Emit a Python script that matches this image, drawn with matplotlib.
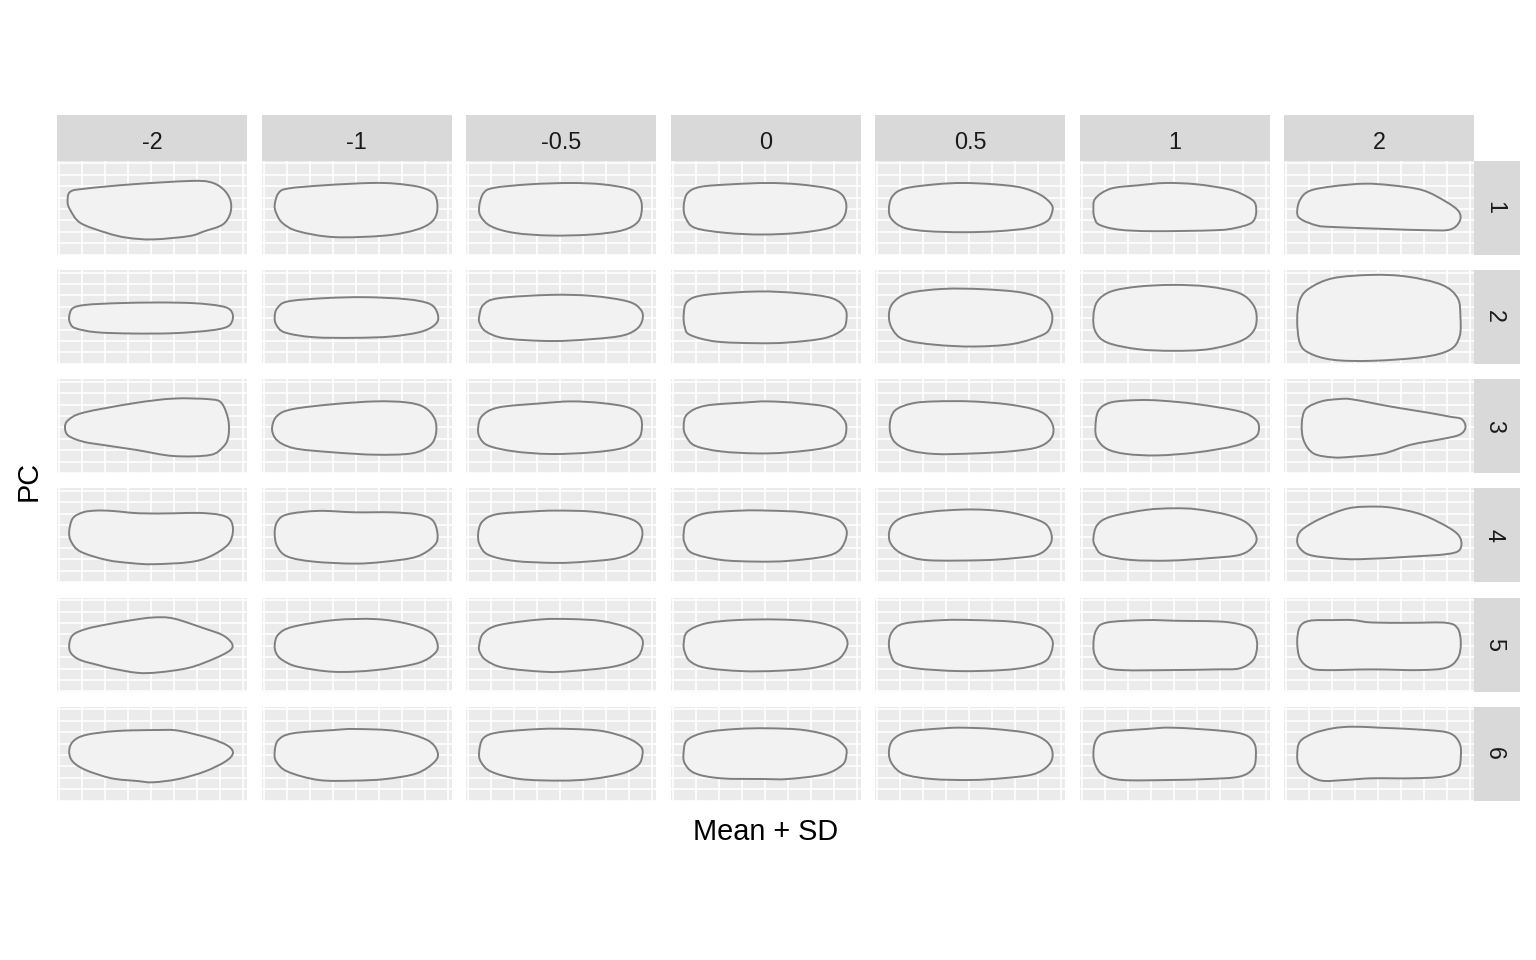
import matplotlib
matplotlib.use("Agg")
import matplotlib.pyplot as plt
from matplotlib.path import Path
from matplotlib.patches import PathPatch
import numpy as np

plt.rcParams['font.family'] = ['Liberation Sans', 'DejaVu Sans']

# ---------------- data ----------------
sd_levels = ["-2", "-1", "-0.5", "0", "0.5", "1", "2"]
pc_labels = ["1", "2", "3", "4", "5", "6"]
x_title = "Mean + SD"
y_title = "PC"

# Outline coordinates of the reconstructed shapes (panel units, y downward),
# one closed outline per SD level, for each principal component.
PC1 = [
    [(10.3,41.0),(12.9,31.1),(28.4,27.9),(74.9,23.6),(131.7,20.3),(152.4,21.3),(165.3,27.9),(173.0,39.3),(173.0,52.5),(165.3,63.9),(147.2,70.5),(131.7,75.4),(95.6,78.7),(69.7,77.0),(49.1,72.1),(23.2,62.3),(12.9,49.2)],
    [(12.9,44.3),(16.5,32.8),(25.8,27.9),(62.0,24.6),(108.5,22.3),(134.3,23.0),(160.1,26.9),(173.0,34.4),(175.5,49.2),(170.4,60.7),(154.9,68.9),(123.9,74.8),(72.3,76.4),(36.2,70.5),(20.7,62.3),(14.5,52.5)],
    [(12.9,45.9),(17.0,32.8),(27.4,27.2),(63.5,23.6),(104.9,22.3),(135.8,23.6),(161.7,27.9),(172.0,34.4),(175.6,45.9),(172.0,60.7),(156.5,69.5),(125.5,73.8),(84.2,74.8),(48.0,72.2),(24.8,65.6),(14.5,55.8)],
    [(12.9,45.9),(16.5,32.8),(29.4,26.2),(60.4,23.6),(96.6,22.3),(127.6,23.6),(158.6,27.9),(171.5,34.4),(175.6,45.9),(171.5,59.0),(158.6,67.2),(127.6,72.2),(91.4,73.8),(55.3,72.2),(24.3,67.2),(15.0,57.4)],
    [(13.6,49.2),(16.8,36.1),(29.2,27.9),(60.4,23.6),(87.7,22.3),(118.8,23.6),(146.1,26.9),(165.6,34.4),(176.5,44.3),(176.5,52.5),(171.4,60.7),(153.9,67.2),(122.7,70.5),(87.7,71.5),(52.6,70.5),(29.2,67.2),(16.8,59.0)],
    [(13.6,49.2),(15.6,37.7),(31.2,27.9),(58.4,24.6),(85.7,22.3),(116.9,23.6),(150.0,28.9),(167.5,36.1),(175.3,42.6),(176.1,54.1),(171.4,62.3),(155.8,67.2),(136.4,69.5),(74.0,70.5),(39.0,68.9),(19.5,64.0),(14.8,57.4)],
    [(12.9,52.5),(15.6,39.4),(25.3,30.2),(48.7,25.6),(79.9,23.0),(107.1,24.6),(138.3,29.5),(161.7,41.0),(174.5,50.8),(175.3,60.7),(165.6,68.9),(142.2,69.5),(99.3,68.2),(48.7,66.3),(33.1,64.9),(17.5,59.0)],
]
PC2 = [
    [(11.9,46.6),(15.5,38.3),(28.4,35.0),(59.4,33.3),(100.7,32.6),(136.9,33.3),(162.7,36.0),(173.0,40.0),(175.6,48.3),(170.4,56.6),(152.4,60.6),(116.2,63.3),(74.9,63.6),(38.7,62.3),(18.1,58.3),(12.9,53.3)],
    [(12.9,46.6),(15.5,38.3),(25.8,31.6),(62.0,28.3),(103.3,27.3),(144.6,29.3),(167.9,34.0),(175.6,43.3),(174.6,53.3),(160.1,61.6),(129.1,66.6),(93.0,67.9),(51.7,67.3),(23.2,62.6),(14.5,54.9)],
    [(12.9,46.6),(17.0,35.0),(32.5,28.3),(84.2,25.0),(125.5,26.0),(161.7,31.6),(174.6,40.0),(176.1,50.0),(169.4,59.9),(151.3,66.6),(104.9,70.6),(73.9,70.9),(37.7,68.3),(19.6,61.6),(13.4,53.3)],
    [(12.9,45.0),(16.5,31.6),(34.6,25.0),(86.3,21.6),(127.6,23.3),(161.1,28.3),(174.1,38.3),(175.6,50.0),(171.5,59.9),(153.4,68.3),(117.2,72.6),(86.3,73.3),(44.9,71.6),(19.1,64.9),(13.9,56.6)],
    [(13.6,46.6),(17.5,33.3),(33.1,23.3),(68.2,19.0),(107.1,19.3),(146.1,22.6),(167.5,30.0),(176.5,43.3),(175.3,56.6),(167.5,64.9),(138.3,73.9),(99.3,76.6),(60.4,74.9),(29.2,69.9),(17.5,59.9)],
    [(13.6,46.6),(17.5,31.6),(31.2,21.6),(58.4,16.7),(93.5,15.0),(128.6,16.7),(159.7,23.3),(173.4,35.0),(176.9,48.3),(173.4,61.6),(159.7,71.6),(128.6,79.3),(93.5,80.9),(58.4,79.3),(27.3,72.6),(15.6,61.6)],
    [(12.9,50.0),(15.6,30.0),(25.3,18.3),(48.7,8.3),(87.7,5.0),(122.7,6.7),(157.8,15.0),(173.4,28.3),(176.1,46.6),(175.3,66.6),(165.6,79.9),(138.3,87.2),(87.7,90.9),(48.7,89.9),(25.3,83.3),(15.6,73.3)],
]
PC3 = [
    [(7.7,48.3),(11.0,41.0),(26.0,33.6),(76.0,24.2),(116.0,19.5),(152.7,20.2),(164.4,24.2),(171.0,40.9),(171.0,57.6),(166.0,67.6),(152.7,75.9),(116.0,76.9),(79.4,70.9),(50.0,66.5),(26.0,62.6),(11.0,56.5)],
    [(10.3,48.3),(15.5,36.6),(31.0,30.0),(72.3,25.0),(113.6,22.3),(144.6,23.3),(162.7,28.3),(173.0,40.0),(174.1,54.9),(167.9,66.6),(149.8,74.3),(113.6,75.6),(72.3,73.3),(36.2,69.9),(20.7,64.9),(12.9,58.3)],
    [(11.9,48.3),(16.0,36.6),(32.5,28.3),(73.9,24.3),(104.9,22.3),(135.8,24.0),(161.7,28.3),(173.5,36.6),(175.6,48.3),(172.0,59.9),(156.5,68.9),(125.5,73.3),(84.2,74.9),(48.0,72.3),(22.2,66.6),(13.4,58.3)],
    [(12.9,46.6),(16.5,35.0),(34.6,26.6),(75.9,23.3),(96.6,22.3),(127.6,24.0),(158.6,28.3),(171.5,38.3),(175.6,48.3),(171.5,61.6),(153.4,68.9),(117.2,73.3),(86.3,74.3),(50.1,72.3),(24.3,66.6),(15.0,56.6)],
    [(14.4,46.6),(19.5,31.6),(37.0,24.3),(60.4,22.3),(95.5,22.3),(130.5,25.0),(157.8,30.0),(171.4,36.6),(178.0,48.3),(175.3,59.9),(161.7,68.3),(134.4,72.3),(99.3,74.3),(60.4,74.9),(33.1,70.9),(18.3,61.6)],
    [(15.6,48.3),(18.7,31.6),(31.2,23.3),(58.4,21.0),(81.8,21.6),(116.9,25.0),(159.7,32.3),(175.3,40.0),(179.2,48.3),(175.3,58.3),(155.8,66.6),(116.9,73.3),(77.9,76.3),(46.8,74.9),(27.3,69.9),(17.5,59.9)],
    [(17.5,45.0),(21.4,30.0),(37.0,22.3),(54.5,20.0),(68.2,20.3),(107.1,27.6),(142.2,33.3),(165.6,37.6),(177.3,40.0),(181.2,48.3),(175.3,55.6),(157.8,59.9),(126.6,65.6),(99.3,74.3),(68.2,77.6),(48.7,78.3),(29.2,74.3),(19.5,61.6)],
]
PC4 = [
    [(11.9,43.3),(15.5,30.0),(25.8,24.0),(38.7,22.3),(54.2,22.6),(82.6,25.0),(116.2,25.0),(142.0,24.6),(162.7,26.6),(173.0,31.6),(175.6,43.3),(170.4,56.6),(152.4,68.3),(131.7,73.9),(95.6,75.9),(74.9,74.9),(49.1,71.6),(23.2,63.3),(13.9,53.3)],
    [(12.9,45.0),(15.5,33.3),(25.8,26.0),(56.8,22.6),(93.0,24.0),(129.1,24.0),(155.0,26.0),(170.4,31.6),(175.6,45.0),(173.0,56.6),(155.0,68.3),(124.0,73.3),(93.0,75.3),(51.7,73.3),(25.8,68.3),(15.5,58.3)],
    [(11.9,45.0),(16.0,33.3),(30.0,26.0),(63.5,23.3),(89.4,22.3),(125.5,23.3),(156.5,28.3),(172.0,35.0),(176.1,46.6),(169.4,61.6),(151.3,69.9),(120.3,73.3),(89.4,74.6),(48.0,72.6),(22.2,66.6),(13.4,56.6)],
    [(12.9,45.0),(16.5,33.3),(34.6,25.0),(70.8,22.3),(96.6,22.3),(132.7,24.0),(163.7,30.0),(174.1,38.3),(175.6,48.3),(168.9,61.6),(153.4,68.3),(117.2,72.6),(86.3,73.3),(50.1,71.6),(21.7,64.9),(13.9,54.9)],
    [(13.6,48.3),(16.8,36.6),(29.2,28.3),(56.5,23.3),(87.7,21.3),(111.0,21.6),(134.4,24.0),(157.8,30.0),(171.4,36.6),(176.5,48.3),(173.4,58.3),(161.7,66.6),(138.3,69.9),(107.1,71.9),(52.6,71.9),(29.2,66.6),(17.5,58.3)],
    [(13.6,50.0),(17.5,36.6),(31.2,28.3),(66.2,21.6),(93.5,20.0),(116.9,21.0),(148.0,26.6),(167.5,35.0),(176.5,48.3),(173.4,58.3),(159.7,66.6),(128.6,69.9),(89.6,72.3),(50.6,71.6),(23.4,66.6),(15.6,58.3)],
    [(12.9,51.6),(17.5,41.6),(37.0,30.0),(64.3,20.0),(91.6,18.3),(111.0,20.0),(138.3,26.6),(165.6,40.0),(176.1,50.0),(175.3,61.6),(161.7,65.9),(126.6,68.3),(76.0,70.9),(48.7,69.9),(25.3,66.6),(15.6,59.9)],
]
PC5 = [
    [(11.9,47.6),(15.5,37.6),(28.4,31.6),(49.1,27.0),(74.9,22.6),(95.6,20.0),(116.2,21.0),(147.2,31.0),(165.3,37.6),(174.6,46.0),(173.0,52.6),(157.5,60.9),(131.7,70.3),(100.7,74.9),(80.1,75.3),(54.2,70.9),(43.9,68.3),(23.2,62.6),(13.9,55.9)],
    [(12.9,47.6),(16.5,37.0),(31.0,29.3),(72.3,22.6),(113.6,21.6),(144.6,26.0),(167.9,34.3),(175.6,46.0),(173.0,55.9),(155.0,65.9),(113.6,72.6),(72.3,74.3),(36.2,69.3),(20.7,62.6),(14.5,55.9)],
    [(12.9,47.6),(17.0,36.0),(32.5,27.6),(73.9,22.0),(104.9,21.6),(135.8,23.6),(161.7,30.3),(174.6,39.3),(176.1,49.3),(169.4,60.9),(146.2,69.3),(104.9,73.6),(79.0,74.3),(37.7,70.3),(19.6,62.6),(13.4,54.3)],
    [(12.9,46.0),(16.5,34.3),(34.6,26.0),(65.6,22.6),(106.9,22.0),(143.1,24.3),(166.3,31.0),(175.6,41.0),(175.6,51.0),(166.3,62.6),(143.1,70.3),(106.9,73.3),(70.8,73.6),(34.6,70.3),(19.1,63.6),(13.9,54.3)],
    [(13.6,46.0),(16.8,34.3),(29.2,26.0),(68.2,22.6),(99.3,22.6),(138.3,24.3),(163.6,29.3),(175.3,39.3),(177.3,49.3),(171.4,62.6),(153.9,69.3),(126.6,72.6),(83.8,73.6),(40.9,70.9),(21.4,65.9),(15.6,57.6)],
    [(13.6,47.6),(16.4,32.6),(27.3,25.0),(66.2,22.6),(97.4,23.3),(144.2,24.3),(167.5,29.3),(175.3,37.6),(177.3,49.3),(173.4,62.6),(159.7,70.9),(136.4,71.9),(89.6,72.6),(42.9,72.6),(23.4,69.3),(15.6,59.3)],
    [(12.9,44.3),(15.6,29.3),(25.3,23.3),(48.7,22.6),(68.2,22.6),(87.7,25.0),(126.6,25.3),(161.7,25.3),(173.4,31.0),(176.5,46.0),(173.4,60.9),(161.7,70.3),(134.4,72.6),(87.7,71.9),(40.9,72.6),(25.3,70.3),(15.6,60.9)],
]
PC6 = [
    [(11.9,45.0),(15.5,35.0),(28.4,28.3),(59.4,24.3),(100.7,23.3),(121.4,24.0),(152.4,31.6),(170.4,39.0),(175.6,46.6),(167.9,54.9),(147.2,64.9),(121.4,72.3),(95.6,75.6),(80.1,74.3),(54.2,71.6),(28.4,63.3),(15.5,54.9)],
    [(12.9,45.0),(16.5,33.3),(31.0,26.6),(72.3,23.3),(93.0,22.3),(134.3,24.3),(165.3,33.3),(175.6,45.0),(173.0,54.9),(155.0,66.6),(124.0,72.3),(93.0,73.9),(56.8,73.3),(25.8,64.9),(14.5,54.9)],
    [(12.9,45.0),(17.0,31.6),(32.5,25.6),(73.9,22.3),(104.9,22.3),(135.8,24.3),(161.7,31.6),(174.6,40.0),(176.1,48.3),(172.0,58.3),(156.5,66.6),(125.5,72.3),(94.5,73.9),(53.2,72.3),(24.8,64.9),(14.5,54.9)],
    [(12.9,45.0),(16.5,33.3),(34.6,25.6),(65.6,22.3),(96.6,21.6),(132.7,23.3),(161.1,30.0),(174.1,40.0),(175.6,48.3),(171.5,58.3),(153.4,67.6),(117.2,72.3),(91.4,72.3),(50.1,71.6),(24.3,66.6),(13.9,56.6)],
    [(13.6,46.6),(17.5,33.3),(33.1,25.0),(68.2,21.6),(87.7,21.0),(118.8,22.3),(153.9,26.6),(171.4,35.0),(177.3,46.6),(173.4,58.3),(157.8,67.6),(126.6,71.6),(95.5,73.3),(56.5,72.3),(29.2,67.6),(17.5,58.3)],
    [(13.6,46.6),(16.4,33.3),(27.3,25.6),(66.2,22.3),(93.5,21.0),(144.2,24.3),(165.6,28.3),(174.5,36.6),(176.1,48.3),(173.4,61.6),(159.7,69.9),(128.6,72.3),(89.6,73.3),(42.9,73.3),(23.4,68.3),(15.6,58.3)],
    [(12.9,48.3),(15.6,35.0),(29.2,26.6),(48.7,21.6),(68.2,20.0),(95.5,21.0),(142.2,23.3),(165.6,26.6),(175.3,36.6),(176.5,50.0),(173.4,63.3),(157.8,69.9),(126.6,71.6),(87.7,71.6),(60.4,73.3),(37.0,73.9),(21.4,66.6),(14.4,58.3)],
]
outlines_by_pc = [PC1, PC2, PC3, PC4, PC5, PC6]

# ---------------- layout / style ----------------
W, H = 1536, 960
panel_w, panel_h = 190.0, 94.0
col_left0, col_step = 57.3, 204.5
row_top0, row_step = 160.7, 109.2
strip_size = 45.7
grid_x = [2.0 + 23.0 * k for k in range(9)]
grid_y = [2.6 + 11.4 * k for k in range(9)]

PANEL_BG = "#EBEBEB"
STRIP_BG = "#D9D9D9"
SHAPE_FILL = "#F2F2F2"
SHAPE_EDGE = "#7F7F7F"
STRIP_FS = 16.8
TITLE_FS = 20.8


def smooth_closed(points):
    P = np.asarray(points, float)
    n = len(P)
    verts = [P[0]]
    codes = [Path.MOVETO]
    for i in range(n):
        p0, p1, p2, p3 = P[i - 1], P[i], P[(i + 1) % n], P[(i + 2) % n]
        verts += [p1 + (p2 - p0) / 6.0, p2 - (p3 - p1) / 6.0, p2]
        codes += [Path.CURVE4] * 3
    verts.append(P[0])
    codes.append(Path.CLOSEPOLY)
    return Path(verts, codes)


def px_axes(fig, left, top, w, h):
    return fig.add_axes([left / W, 1 - (top + h) / H, w / W, h / H])


fig = plt.figure(figsize=(W / 100, H / 100), dpi=100)
fig.patch.set_facecolor("white")

for r, pc_rows in enumerate(outlines_by_pc):
    top = row_top0 + r * row_step
    for c, pts in enumerate(pc_rows):
        left = col_left0 + c * col_step
        ax = px_axes(fig, left, top, panel_w, panel_h)
        ax.set_facecolor(PANEL_BG)
        ax.set_xlim(0, panel_w)
        ax.set_ylim(panel_h, 0)
        ax.set_xticks(grid_x)
        ax.set_yticks(grid_y)
        ax.grid(True, color="white", linewidth=1.2)
        ax.set_axisbelow(True)
        ax.tick_params(length=0, labelbottom=False, labelleft=False)
        for s in ax.spines.values():
            s.set_visible(False)
        ax.add_patch(PathPatch(smooth_closed(pts), facecolor=SHAPE_FILL,
                               edgecolor=SHAPE_EDGE, linewidth=1.4, zorder=3))

# top strips
for c, lab in enumerate(sd_levels):
    left = col_left0 + c * col_step
    sax = px_axes(fig, left, row_top0 - strip_size, panel_w, strip_size)
    sax.set_facecolor(STRIP_BG)
    sax.set_xticks([]); sax.set_yticks([])
    for s in sax.spines.values():
        s.set_visible(False)
    sax.text(0.5, 0.40, lab, ha="center", va="center", fontsize=STRIP_FS,
             color="#1A1A1A", transform=sax.transAxes)

# right strips
right_edge = col_left0 + 6 * col_step + panel_w
for r, lab in enumerate(pc_labels):
    top = row_top0 + r * row_step
    sax = px_axes(fig, right_edge, top, strip_size, panel_h)
    sax.set_facecolor(STRIP_BG)
    sax.set_xticks([]); sax.set_yticks([])
    for s in sax.spines.values():
        s.set_visible(False)
    sax.text(0.44, 0.5, lab, ha="center", va="center", fontsize=STRIP_FS,
             color="#1A1A1A", rotation=-90, transform=sax.transAxes)

# axis titles
grid_center_x = (col_left0 + right_edge) / 2
grid_center_y = (row_top0 + row_top0 + 5 * row_step + panel_h) / 2
fig.text(grid_center_x / W, 1 - 832 / H, x_title, ha="center", va="center",
         fontsize=TITLE_FS, color="black")
fig.text(29 / W, 1 - grid_center_y / H, y_title, ha="center", va="center",
         fontsize=TITLE_FS, color="black", rotation=90)

fig.savefig("out.png", dpi=100, facecolor="white")
